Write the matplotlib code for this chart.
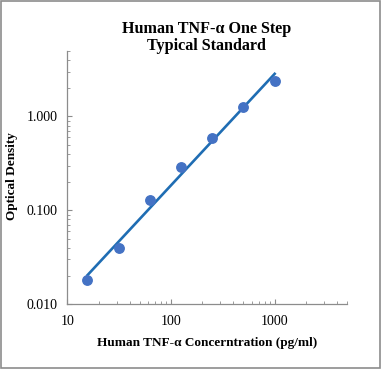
import numpy as np
import matplotlib
matplotlib.use("Agg")
import matplotlib.pyplot as plt
from matplotlib.ticker import LogLocator, FixedFormatter, FixedLocator, NullFormatter
from matplotlib.patches import Rectangle

# standard curve readings
conc = [15.6, 31.25, 62.5, 125, 250, 500, 1000]
od = [0.018, 0.040, 0.128, 0.29, 0.59, 1.25, 2.38]

# power trendline fitted in log-log space
k, b = np.polyfit(np.log10(conc), np.log10(od), 1)
fit_x = np.array([conc[0], conc[-1]])
fit_y = 10 ** (k * np.log10(fit_x) + b)

plt.rcParams['font.family'] = ['Liberation Serif', 'DejaVu Serif']

fig = plt.figure(figsize=(3.81, 3.69), dpi=100)
ax = fig.add_axes([0.177, 0.176, 0.734, 0.686])

ax.plot(fit_x, fit_y, color='#1f6db3', lw=1.9, zorder=2)
ax.plot(conc, od, 'o', ms=6.8, color='#4472c4', zorder=3)

ax.set_xscale('log')
ax.set_yscale('log')
ax.set_xlim(10, 5000)
ax.set_ylim(0.01, 5)

ax.xaxis.set_major_locator(FixedLocator([10, 100, 1000]))
ax.xaxis.set_major_formatter(FixedFormatter(['10', '100', '1000']))
ax.xaxis.set_minor_locator(LogLocator(base=10, subs=np.arange(2, 10)))
ax.xaxis.set_minor_formatter(NullFormatter())
ax.yaxis.set_major_locator(FixedLocator([0.01, 0.1, 1]))
ax.yaxis.set_major_formatter(FixedFormatter(['0.010', '0.100', '1.000']))
ax.yaxis.set_minor_locator(LogLocator(base=10, subs=np.arange(2, 10)))
ax.yaxis.set_minor_formatter(NullFormatter())

for s in ['top', 'right']:
    ax.spines[s].set_visible(False)
for s in ['left', 'bottom']:
    ax.spines[s].set_color('#8c8c8c')
    ax.spines[s].set_linewidth(0.9)
ax.tick_params(which='major', direction='in', length=3.5, color='#8c8c8c', labelsize=10)
ax.tick_params(which='minor', direction='in', length=2.5, color='#8c8c8c')
ax.tick_params(axis='y', which='major', pad=7)
ax.tick_params(axis='x', which='major', pad=8)

ax.set_xlabel('Human TNF-α Concerntration (pg/ml)', fontsize=9.5, fontweight='bold', labelpad=6)
ax.set_ylabel('Optical Density', fontsize=9.5, fontweight='bold')
ax.yaxis.set_label_coords(-0.175, 0.505)
fig.text(0.543, 0.898, 'Human TNF-α One Step\nTypical Standard', ha='center', va='center',
         fontsize=11.6, fontweight='bold', linespacing=1.1)

fig.patches.append(Rectangle((0.003, 0.003), 0.994, 0.994, transform=fig.transFigure,
                             fill=False, edgecolor='#8c8c8c', lw=1.2))

fig.savefig('out.png', dpi=100)
